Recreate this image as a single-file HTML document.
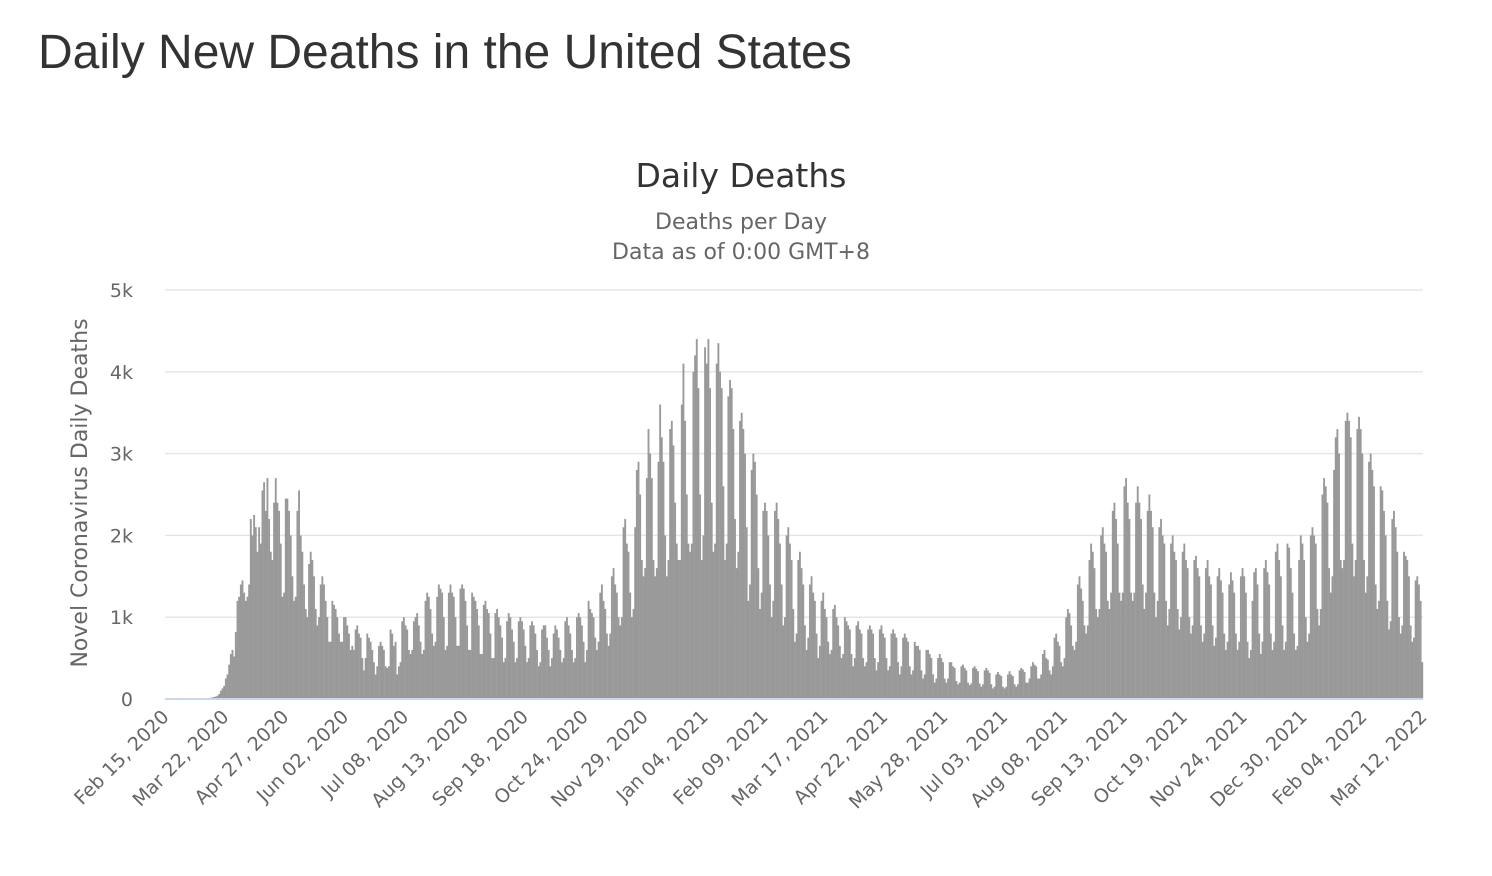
<!DOCTYPE html>
<html><head><meta charset="utf-8">
<style>
body{margin:0;background:#fff;width:1492px;height:876px;overflow:hidden;font-family:"Liberation Sans",sans-serif;}
#page-title{position:absolute;left:38px;top:25px;font-size:48px;color:#333;margin:0;font-weight:normal;}
svg{position:absolute;left:0;top:0;font-family:"DejaVu Sans",sans-serif;}
</style></head><body>
<h1 id="page-title">Daily New Deaths in the United States</h1>
<svg id="chart" width="1492" height="876">
<text x="741" y="187" text-anchor="middle" font-size="33" fill="#333">Daily Deaths</text>
<text x="741" y="229" text-anchor="middle" font-size="22" fill="#666">Deaths per Day</text>
<text x="741" y="259" text-anchor="middle" font-size="22" fill="#666">Data as of 0:00 GMT+8</text>
<text transform="translate(87,493) rotate(-90)" text-anchor="middle" font-size="22" fill="#666">Novel Coronavirus Daily Deaths</text>
<g id="grid"></g><g id="bars"></g><g id="axes"></g>
</svg>
<script>
const yTicks=[0,1000,2000,3000,4000,5000];
const yTickLabels=["0","1k","2k","3k","4k","5k"];
const xTickLabels=["Feb 15, 2020","Mar 22, 2020","Apr 27, 2020","Jun 02, 2020","Jul 08, 2020","Aug 13, 2020","Sep 18, 2020","Oct 24, 2020","Nov 29, 2020","Jan 04, 2021","Feb 09, 2021","Mar 17, 2021","Apr 22, 2021","May 28, 2021","Jul 03, 2021","Aug 08, 2021","Sep 13, 2021","Oct 19, 2021","Nov 24, 2021","Dec 30, 2021","Feb 04, 2022","Mar 12, 2022"];
const dailyDeaths=[
0,0,0,0,0,0,0, 0,0,0,0,0,0,0, 0,0,0,0,0,0,0, 0,0,0,5,8,10,15,
20,25,30,40,60,100,130, 160,250,300,420,550,600,520, 820,1200,1250,1400,1450,1300,1200,
1250,1400,2200,2000,2250,2100,1800, 2100,1900,2550,2650,2300,2700,2200, 1800,1700,2400,2700,2400,2300,1900,
1250,1300,2450,2450,2300,2000,1500, 1200,1250,2300,2550,2000,1800,1400, 1100,1000,1650,1800,1700,1500,1100,
900,1000,1400,1500,1400,1200,1000, 700,700,1200,1150,1100,1000,800, 700,700,1000,1000,900,800,600,
650,600,850,900,800,750,500, 350,500,800,750,700,600,450, 300,400,650,700,650,600,400,
380,400,850,800,650,700,300, 400,450,950,1000,900,850,600, 550,600,950,1000,1050,900,700,
550,600,1200,1300,1250,1100,800, 650,700,1250,1400,1350,1300,1000, 600,650,1300,1400,1300,1250,1000,
650,650,1350,1400,1350,1200,900, 600,600,1300,1250,1200,1100,900, 550,550,1150,1200,1100,1050,800,
500,500,1050,1100,1000,900,750, 450,500,950,1050,1000,850,700, 450,500,950,1000,950,850,650,
450,500,900,950,900,800,600, 400,450,850,900,900,750,600, 400,500,800,900,850,750,600,
450,500,950,1000,900,800,600, 450,500,1000,1050,1000,900,700, 450,600,1200,1100,1050,1000,750,
600,700,1300,1400,1200,1100,800, 650,800,1500,1600,1400,1300,1000, 900,1000,2100,2200,1900,1800,1300,
1000,1100,2100,2800,2900,2500,1700, 1500,1600,2700,3300,3000,2700,1700, 1500,1600,2900,3600,3200,2900,2000,
1500,1700,3300,3400,3100,2400,1900, 1700,1700,3600,4100,3400,2500,1900, 1800,1900,4000,4200,4400,3800,2500,
1700,2000,4300,4100,4400,3800,2400, 1800,1900,4100,4350,4000,3800,2600, 1700,1900,3700,3900,3800,3300,2200,
1600,1800,3400,3500,3300,3000,2100, 1200,1400,2800,3000,2900,2500,1600, 1100,1300,2300,2400,2300,2000,1400,
1000,1200,2300,2400,2200,1900,1400, 900,1000,2000,2100,1900,1700,1100, 700,800,1700,1800,1600,1400,900,
600,750,1400,1500,1300,1200,800, 500,650,1200,1300,1100,1000,700, 550,600,1100,1150,1000,900,650,
500,550,1000,950,900,850,550, 400,500,900,950,850,800,500, 400,450,850,900,850,800,500,
350,450,850,900,800,750,500, 350,400,800,850,800,750,450, 300,400,750,800,750,700,400,
300,350,700,650,650,600,350, 250,300,600,600,550,500,300, 200,250,500,550,500,450,250,
200,250,450,450,400,380,220, 180,200,400,420,380,350,200, 170,190,380,400,370,340,190,
150,180,350,380,350,320,180, 130,150,300,330,300,280,150, 130,150,300,340,300,280,180,
150,180,350,380,360,330,200, 200,250,400,450,420,400,250, 250,300,550,600,500,480,350,
300,400,750,800,700,650,450, 400,500,1000,1100,1050,900,650, 600,700,1400,1500,1350,1200,900,
800,900,1700,1900,1800,1600,1100, 1000,1100,2000,2100,1900,1800,1200, 1100,1300,2300,2400,2200,1900,1300,
1200,1300,2600,2700,2400,2200,1300, 1200,1300,2400,2600,2400,2200,1400, 1100,1300,2300,2500,2300,2100,1300,
1000,1200,2100,2200,2000,1900,1200, 900,1100,1900,2000,1800,1700,1100, 850,1000,1800,1900,1700,1600,1000,
800,900,1700,1750,1600,1500,900, 700,800,1600,1700,1500,1400,900, 650,750,1500,1600,1450,1300,800,
600,700,1400,1550,1450,1300,800, 600,700,1500,1600,1500,1300,700, 500,600,1200,1550,1600,1400,800,
550,700,1600,1700,1550,1400,800, 600,700,1800,1900,1700,1500,900, 600,700,1900,1850,1600,1300,800,
600,650,1700,2000,1900,1700,1000, 700,800,2000,2100,2000,1900,1100, 900,1100,2500,2700,2600,2400,1600,
1300,1500,2800,3200,3300,3000,1700, 1600,1700,3400,3500,3400,3200,1900, 1500,1700,3300,3450,3300,3000,1700,
1300,1500,2900,3000,2800,2600,1400, 1100,1200,2600,2550,2300,2000,1200, 850,950,2200,2300,2100,1800,1000,
800,900,1800,1750,1700,1500,900, 700,750,1450,1500,1400,1200,450
];
const NS="http://www.w3.org/2000/svg";
const X0=165,X1=1423,Y0=699,Y1=290,YMAX=5000;
const totalDays=(xTickLabels.length-1)*36;
const xScale=d=>X0+(X1-X0)*d/totalDays;
const yScale=v=>Y0-(Y0-Y1)*v/YMAX;
const grid=document.getElementById('grid'),bars=document.getElementById('bars'),axes=document.getElementById('axes');
yTicks.forEach((t,i)=>{
 if(t>0){const l=document.createElementNS(NS,'line');
 l.setAttribute('x1',X0);l.setAttribute('x2',X1);l.setAttribute('y1',yScale(t));l.setAttribute('y2',yScale(t));
 l.setAttribute('stroke','#e6e6e6');l.setAttribute('stroke-width','1.5');
 
 
 grid.appendChild(l);}
 const tx=document.createElementNS(NS,'text');
 tx.setAttribute('x',133);tx.setAttribute('y',yScale(t)+7);tx.setAttribute('text-anchor','end');
 tx.setAttribute('font-size','19');tx.setAttribute('fill','#666');tx.textContent=yTickLabels[i];
 
 
 axes.appendChild(tx);
});
const bw=(X1-X0)/totalDays;
dailyDeaths.forEach((v,d)=>{
 if(v<=0)return;
 const r=document.createElementNS(NS,'rect');
 r.setAttribute('x',xScale(d));r.setAttribute('width',bw+0.2);
 r.setAttribute('y',yScale(v));r.setAttribute('height',Y0-yScale(v));r.setAttribute('fill','#999');
 
 
 bars.appendChild(r);
});
const ax=document.createElementNS(NS,'line');
ax.setAttribute('x1',X0);ax.setAttribute('x2',X1);ax.setAttribute('y1',Y0);ax.setAttribute('y2',Y0);
ax.setAttribute('stroke','#ccd6eb');ax.setAttribute('stroke-width','2');


axes.appendChild(ax);
xTickLabels.forEach((lab,i)=>{
 const x=xScale(i*36);
 const tx=document.createElementNS(NS,'text');
 tx.setAttribute('transform','translate('+(x+5)+',718) rotate(-45)');
 tx.setAttribute('text-anchor','end');tx.setAttribute('font-size','19');tx.setAttribute('fill','#666');
 tx.textContent=lab;
 
 
 axes.appendChild(tx);
});
</script>
</body></html>
